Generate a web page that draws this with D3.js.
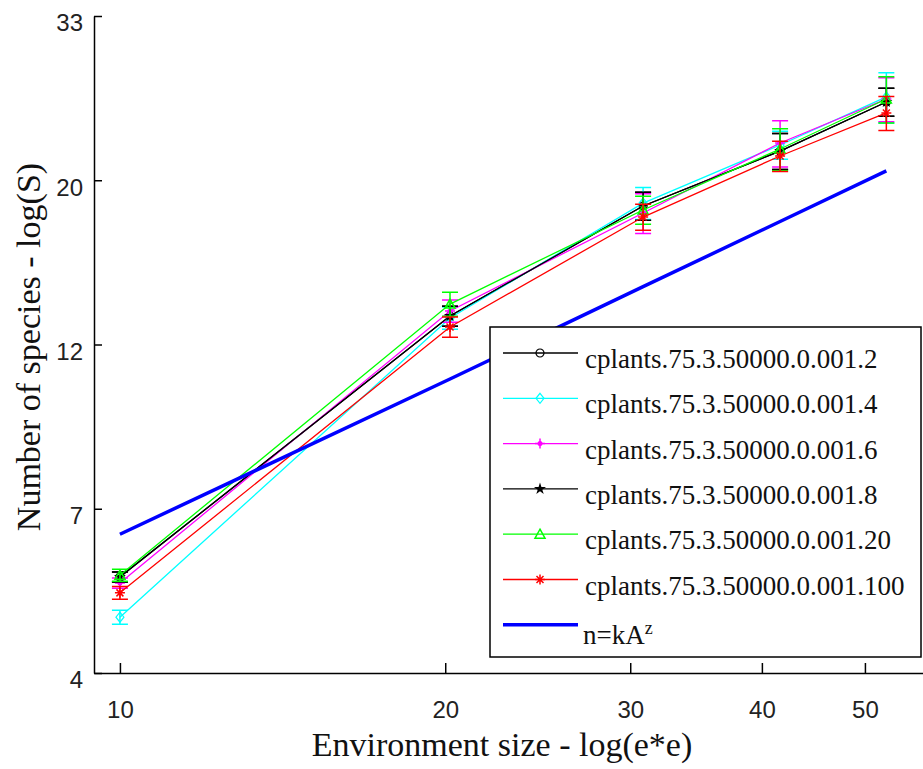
<!DOCTYPE html>
<html>
<head>
<meta charset="utf-8">
<script src="https://cdn.jsdelivr.net/npm/d3@7/dist/d3.min.js"></script>
<style>
html,body{margin:0;padding:0;background:#fff;}
svg{display:block;}
</style>
</head>
<body>
<svg id="chart" width="923" height="769"></svg>
<script>
// ---- data ----
const envSizes = [10, 20, 30, 40, 50];
const seriesNames = [
  "cplants.75.3.50000.0.001.2",
  "cplants.75.3.50000.0.001.4",
  "cplants.75.3.50000.0.001.6",
  "cplants.75.3.50000.0.001.8",
  "cplants.75.3.50000.0.001.20",
  "cplants.75.3.50000.0.001.100"
];
const seriesColors = ["#000000", "#00ffff", "#ff00ff", "#000000", "#00ff00", "#ff0000"];
const seriesMarkers = ["circle", "diamond", "plus", "star", "triangle", "asterisk"];
const meanS2   = [5.69, 12.97, 18.36, 21.84, 25.50];
const meanS4   = [5.01, 12.89, 18.53, 22.26, 25.91];
const meanS6   = [5.58, 13.18, 17.96, 22.40, 25.74];
const meanS8   = [5.69, 12.97, 18.36, 21.84, 25.50];
const meanS20  = [5.72, 13.47, 18.13, 21.98, 25.74];
const meanS100 = [5.41, 12.53, 17.73, 21.50, 24.63];
const errS2   = [0.09, 0.41, 0.81, 1.24, 1.13];
const errS4   = [0.11, 0.45, 0.94, 0.98, 2.05];
const errS6   = [0.09, 0.46, 1.13, 1.63, 1.79];
const errS8   = [0.09, 0.41, 0.81, 1.24, 1.13];
const errS20  = [0.11, 0.51, 0.80, 1.46, 1.87];
const errS100 = [0.11, 0.40, 0.73, 1.02, 1.32];
const powerLaw = [6.51, 10.63, 14.23, 17.48, 20.51];
const powerLawName = "n=kA";
const xTickValues = [10, 19.8, 29.2, 38.5, 47.8];
const xTickLabels = ["10", "20", "30", "40", "50"];
const yTickValues = [4.2, 7.056, 11.854, 19.915, 33.457];
const yTickLabels = ["4", "7", "12", "20", "33"];
const xTitle = "Environment size - log(e*e)";
const yTitle = "Number of species - log(S)";

const means = [meanS2, meanS4, meanS6, meanS8, meanS20, meanS100];
const errs = [errS2, errS4, errS6, errS8, errS20, errS100];

// ---- scales ----
const svg = d3.select("#chart");
const x = d3.scaleLog().domain([9.47, 54.0]).range([94, 923]);
const y = d3.scaleLog().domain([4.2, 33.457]).range([673, 16]);

// ---- axes ----
const tickFont = "'Liberation Sans', Arial, sans-serif";
const xAxis = d3.axisBottom(x).tickValues(xTickValues)
  .tickFormat((d, i) => xTickLabels[i]).tickSizeInner(-10).tickSizeOuter(0).tickPadding(28);
const gx = svg.append("g").attr("transform", "translate(0,673)").call(xAxis);
gx.select(".domain").attr("stroke", "#000").attr("stroke-width", 1.5);
gx.selectAll(".tick line").attr("stroke", "#000").attr("stroke-width", 1.5);
gx.selectAll("text").attr("font-family", tickFont).attr("font-size", 24).attr("fill", "#222");

const yAxis = d3.axisLeft(y).tickValues(yTickValues)
  .tickFormat((d, i) => yTickLabels[i]).tickSizeInner(-8).tickSizeOuter(0).tickPadding(11);
const gy = svg.append("g").attr("transform", "translate(94,0)").call(yAxis);
gy.select(".domain").attr("stroke", "#000").attr("stroke-width", 1.5);
gy.selectAll(".tick line").attr("stroke", "#000").attr("stroke-width", 1.5);
gy.selectAll("text").attr("font-family", tickFont).attr("font-size", 24).attr("fill", "#222")
  .attr("dy", "0.62em");

// ---- titles ----
const serif = "'Liberation Serif', 'Times New Roman', serif";
svg.append("text").attr("x", 502).attr("y", 756).attr("text-anchor", "middle")
  .attr("font-family", serif).attr("font-size", 34).attr("fill", "#111").text(xTitle);
svg.append("text").attr("transform", "translate(40,347) rotate(-90)").attr("text-anchor", "middle")
  .attr("font-family", serif).attr("font-size", 34).attr("fill", "#111").text(yTitle);

// ---- marker drawing ----
function drawMarker(g, type, color, cx, cy) {
  const m = g.append("g").attr("transform", `translate(${cx},${cy})`);
  if (type === "circle") {
    m.append("circle").attr("r", 4).attr("fill", "none").attr("stroke", color).attr("stroke-width", 1.2);
  } else if (type === "diamond") {
    m.append("path").attr("d", "M0,-5L4,0L0,5L-4,0Z").attr("fill", "none").attr("stroke", color).attr("stroke-width", 1.2);
  } else if (type === "plus") {
    m.append("path").attr("d", "M-5,0H5M0,-5V5").attr("stroke", color).attr("stroke-width", 1.5);
    m.append("circle").attr("r", 2.5).attr("fill", color);
  } else if (type === "star") {
    m.append("path").attr("d", d3.symbol().type(d3.symbolStar).size(45)()).attr("fill", color);
  } else if (type === "triangle") {
    m.append("path").attr("d", "M0,-5L5,4L-5,4Z").attr("fill", "none").attr("stroke", color).attr("stroke-width", 1.5);
  } else if (type === "asterisk") {
    m.append("path").attr("d", "M-5,0H5M0,-5V5M-3.5,-3.5L3.5,3.5M-3.5,3.5L3.5,-3.5").attr("stroke", color).attr("stroke-width", 1.5);
  }
}

// ---- power law line ----
const line = d3.line().x((d, i) => x(envSizes[i])).y(d => y(d));
const plot = svg.append("g");

// ---- series ----
means.forEach((vals, s) => {
  const g = plot.append("g");
  g.append("path").datum(vals).attr("d", line).attr("fill", "none")
    .attr("stroke", seriesColors[s]).attr("stroke-width", 1.3);
  vals.forEach((v, i) => {
    const cx = x(envSizes[i]);
    const lo = y(v - errs[s][i]), hi = y(v + errs[s][i]);
    g.append("path").attr("d", `M${cx},${lo}V${hi}M${cx - 8},${lo}H${cx + 8}M${cx - 8},${hi}H${cx + 8}`)
      .attr("stroke", seriesColors[s]).attr("stroke-width", 1.5).attr("fill", "none");
    drawMarker(g, seriesMarkers[s], seriesColors[s], cx, y(v));
  });
});

plot.append("path").datum(powerLaw).attr("d", line).attr("fill", "none")
  .attr("stroke", "#0000ff").attr("stroke-width", 3.5);

// ---- legend ----
const leg = svg.append("g");
leg.append("rect").attr("x", 490).attr("y", 327).attr("width", 431).attr("height", 330)
  .attr("fill", "#fff").attr("stroke", "#000").attr("stroke-width", 1.5);
const rowY = d => 353 + d * 45.3;
seriesNames.forEach((name, s) => {
  const ly = rowY(s);
  leg.append("line").attr("x1", 503).attr("x2", 578).attr("y1", ly).attr("y2", ly)
    .attr("stroke", seriesColors[s]).attr("stroke-width", 1.3);
  drawMarker(leg, seriesMarkers[s], seriesColors[s], 540, ly);
  leg.append("text").attr("x", 585).attr("y", ly + 15).attr("font-family", serif)
    .attr("font-size", 27).attr("fill", "#111").text(name);
});
const by = rowY(6);
leg.append("line").attr("x1", 503).attr("x2", 578).attr("y1", by).attr("y2", by)
  .attr("stroke", "#0000ff").attr("stroke-width", 3.5);
const bt = leg.append("text").attr("x", 583).attr("y", by + 19).attr("font-family", serif)
  .attr("font-size", 27).attr("fill", "#111");
bt.append("tspan").text(powerLawName);
bt.append("tspan").attr("dy", -10).attr("font-size", 18).text("z");
</script>
</body>
</html>
